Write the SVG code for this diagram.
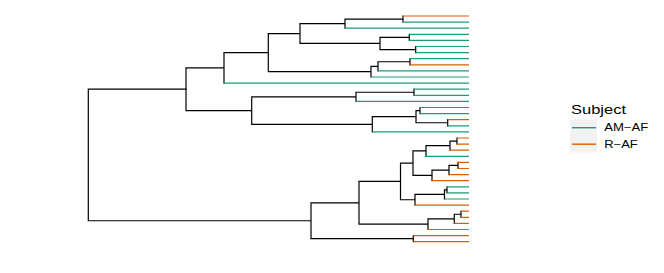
<svg xmlns="http://www.w3.org/2000/svg" width="664" height="273" viewBox="0 0 664 273">
<style>
.br{fill:none;stroke:#000;stroke-width:1.2;stroke-linecap:square}
.g{fill:none;stroke:#1B9E77;stroke-width:1.2}
.o{fill:none;stroke:#D95F02;stroke-width:1.2}
.t{font-family:"Liberation Sans",Arial,sans-serif;fill:#000}
</style>
<rect width="664" height="273" fill="#fff"/>
<g id="connectors">
<path class="br" d="M403,16V22.1 M345,19.05V28.2 M345,19.05H403 M409.3,34.3V40.4 M415.7,46.5V52.6 M380,37.35V49.55 M380,37.35H409.3 M380,49.55H415.7 M300,23.63V43.45 M300,23.63H345 M300,43.45H380 M410,58.7V64.8 M378,61.75V70.9 M378,61.75H410 M371,66.33V77 M371,66.33H378 M268.3,33.54V71.66 M268.3,33.54H300 M268.3,71.66H371 M224,52.6V83.1 M224,52.6H268.3 M414,89.2V95.3 M356,92.25V101.4 M356,92.25H414 M420,107.5V113.6 M447.7,119.7V125.8 M416,110.55V122.75 M416,110.55H420 M416,122.75H447.7 M372.3,116.65V131.9 M372.3,116.65H416 M251.7,96.83V124.28 M251.7,96.83H356 M251.7,124.28H372.3 M186,67.85V110.55 M186,67.85H224 M186,110.55H251.7"/>
<path class="br" d="M457,138V144.1 M450,141.05V150.2 M450,141.05H457 M426,145.63V156.3 M426,145.63H450 M458,162.4V168.5 M449,165.45V174.6 M449,165.45H458 M432,170.03V180.7 M432,170.03H449 M413,150.96V175.36 M413,150.96H426 M413,175.36H432 M447,186.8V192.9 M444.5,189.85V199 M444.5,189.85H447 M415,194.43V205.1 M415,194.43H444.5 M400.5,163.16V199.76 M400.5,163.16H413 M400.5,199.76H415 M461,211.2V217.3 M454.3,214.25V223.4 M454.3,214.25H461 M428,218.83V229.5 M428,218.83H454.3 M359,181.46V224.16 M359,181.46H400.5 M359,224.16H428 M413.3,235.6V241.7 M311,202.81V238.65 M311,202.81H359 M311,238.65H413.3 M88.3,89.2V220.73 M88.3,89.2H186 M88.3,220.73H311"/>
</g>
<g id="leaves">
<path class="g" d="M403,22.1H469 M345,28.2H469 M409.3,34.3H469 M409.3,40.4H469 M415.7,46.5H469 M415.7,52.6H469 M410,58.7H469 M378,70.9H469 M371,77H469 M224,83.1H469 M414,89.2H469 M414,95.3H469 M356,101.4H469 M420,107.5H469 M420,113.6H469 M447.7,125.8H469 M372.3,131.9H469 M426,156.3H469 M447,186.8H469 M447,192.9H469 M444.5,199H469"/>
<path class="o" d="M403,16H469 M410,64.8H469 M447.7,119.7H469 M457,138H469 M457,144.1H469 M450,150.2H469 M458,162.4H469 M458,168.5H469 M449,174.6H469 M432,180.7H469 M415,205.1H469 M461,211.2H469 M461,217.3H469 M454.3,223.4H469 M428,229.5H469 M413.3,235.6H469 M413.3,241.7H469"/>
</g>
<g id="legend">
<text class="t" x="571" y="114" font-size="12.5" textLength="55" lengthAdjust="spacingAndGlyphs">Subject</text>
<rect x="570" y="119.5" width="27" height="16.5" fill="#F2F2F2"/>
<rect x="570" y="136" width="27" height="16.5" fill="#F2F2F2"/>
<line x1="572" y1="127.7" x2="596" y2="127.7" stroke="#1B9E77" stroke-width="1.4"/>
<line x1="572" y1="144.2" x2="596" y2="144.2" stroke="#D95F02" stroke-width="1.4"/>
<text class="t" x="604.3" y="131" font-size="10" textLength="44" lengthAdjust="spacingAndGlyphs">AM−AF</text>
<text class="t" x="604.3" y="147.5" font-size="10" textLength="33.5" lengthAdjust="spacingAndGlyphs">R−AF</text>
</g>
</svg>
